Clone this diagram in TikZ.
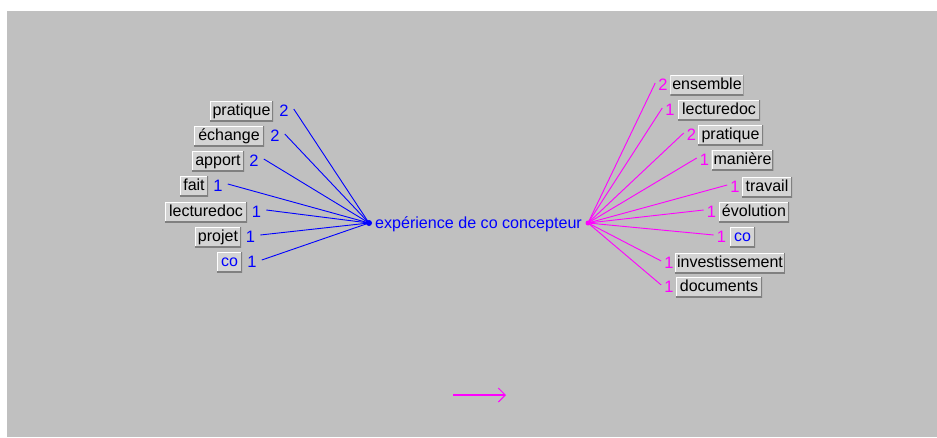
\documentclass[tikz,border=0pt]{standalone}
\usepackage{fontspec}
\setmainfont{Liberation Sans}
\usetikzlibrary{arrows.meta}
\definecolor{bggray}{HTML}{C0C0C0}
\definecolor{boxfill}{HTML}{D4D4D4}
\definecolor{edgedark}{HTML}{808080}
\definecolor{lblue}{HTML}{0000FF}
\definecolor{lmag}{HTML}{FF00FF}
\tikzset{
  wbox/.style={fill=boxfill, minimum height=20pt, inner xsep=2pt, inner ysep=0pt,
    text height=11pt, text depth=3pt, font=\fontsize{16}{19}\selectfont,
    path picture={
      \draw[white, line width=2pt] (path picture bounding box.south west) |- (path picture bounding box.north east);
      \draw[edgedark, line width=2pt] (path picture bounding box.north east) |- (path picture bounding box.south west);
    }},
  numL/.style={text=lblue, font=\fontsize{16.5}{19}\selectfont, inner sep=0pt, text height=11pt, text depth=0pt},
  numR/.style={text=lmag, font=\fontsize{16.5}{19}\selectfont, inner sep=0pt, text height=11pt, text depth=0pt},
  lline/.style={lblue, line width=0.9pt},
  rline/.style={lmag, line width=0.9pt},
}
\begin{document}
\begin{tikzpicture}[x=1pt,y=-1pt]
\useasboundingbox (0,0) rectangle (937,437);
\fill[white] (0,0) rectangle (937,437);
\fill[bggray] (7,11) rectangle (937,437);

% centre
\node[text=lblue, font=\fontsize{16.1}{19}\selectfont, inner sep=0pt] (center) at (478.5,224) {expérience de co concepteur};
\coordinate (hubL) at (369,223);
\coordinate (hubR) at (588,223);

% left boxes
\node[wbox, minimum width=63pt] (lb1) at (241.5,111) {pratique};
\node[wbox, minimum width=70pt] (lb2) at (229,136) {échange};
\node[wbox, minimum width=52pt] (lb3) at (218,161) {apport};
\node[wbox, minimum width=28pt] (lb4) at (194,186) {fait};
\node[wbox, minimum width=82pt] (lb5) at (206,212) {lecturedoc};
\node[wbox, minimum width=46pt] (lb6) at (218,237) {projet};
\node[wbox, minimum width=25pt, text=lblue] (lb7) at (229.5,262) {co};

\node[numL] (ln1) at (284,111) {2};
\node[numL] (ln2) at (275,136) {2};
\node[numL] (ln3) at (254,161) {2};
\node[numL] (ln4) at (218,186) {1};
\node[numL] (ln5) at (256.5,212) {1};
\node[numL] (ln6) at (250.5,237) {1};
\node[numL] (ln7) at (252,262) {1};

\foreach \i in {1,...,7} {
  \draw[lline] ([xshift=5pt,yshift=2pt]ln\i.east) -- (hubL);
}
\fill[lblue] (hubL) circle (3pt);

% right boxes
\node[wbox, minimum width=72pt] (rb1) at (707,85) {ensemble};
\node[wbox, minimum width=82pt] (rb2) at (719,110) {lecturedoc};
\node[wbox, minimum width=65pt] (rb3) at (730.5,135) {pratique};
\node[wbox, minimum width=61pt] (rb4) at (742.5,160) {manière};
\node[wbox, minimum width=50pt] (rb5) at (767,187) {travail};
\node[wbox, minimum width=70pt] (rb6) at (754,212) {évolution};
\node[wbox, minimum width=25pt, text=lblue] (rb7) at (742.5,237) {co};
\node[wbox, minimum width=108pt] (rb8) at (730,263) {investissement};
\node[wbox, minimum width=86pt] (rb9) at (719,287) {documents};

\node[numR] (rn1) at (663,85) {2};
\node[numR] (rn2) at (670,110) {1};
\node[numR] (rn3) at (691.5,135) {2};
\node[numR] (rn4) at (704.5,160) {1};
\node[numR] (rn5) at (735,187) {1};
\node[numR] (rn6) at (711.5,212) {1};
\node[numR] (rn7) at (721.5,237) {1};
\node[numR] (rn8) at (669,263) {1};
\node[numR] (rn9) at (669,287) {1};

\foreach \i in {1,...,9} {
  \draw[rline] (hubR) -- ([xshift=-3pt,yshift=2pt]rn\i.west);
}
\fill[lmag] (hubR) circle (2.5pt);

% legend arrow
\coordinate (arrA) at (453,395);
\coordinate (arrB) at (506,395);
\draw[lmag, line width=1.6pt, -{Straight Barb[length=7pt,width=14pt,line width=1pt]}] (arrA) -- (arrB);
\end{tikzpicture}
\end{document}
